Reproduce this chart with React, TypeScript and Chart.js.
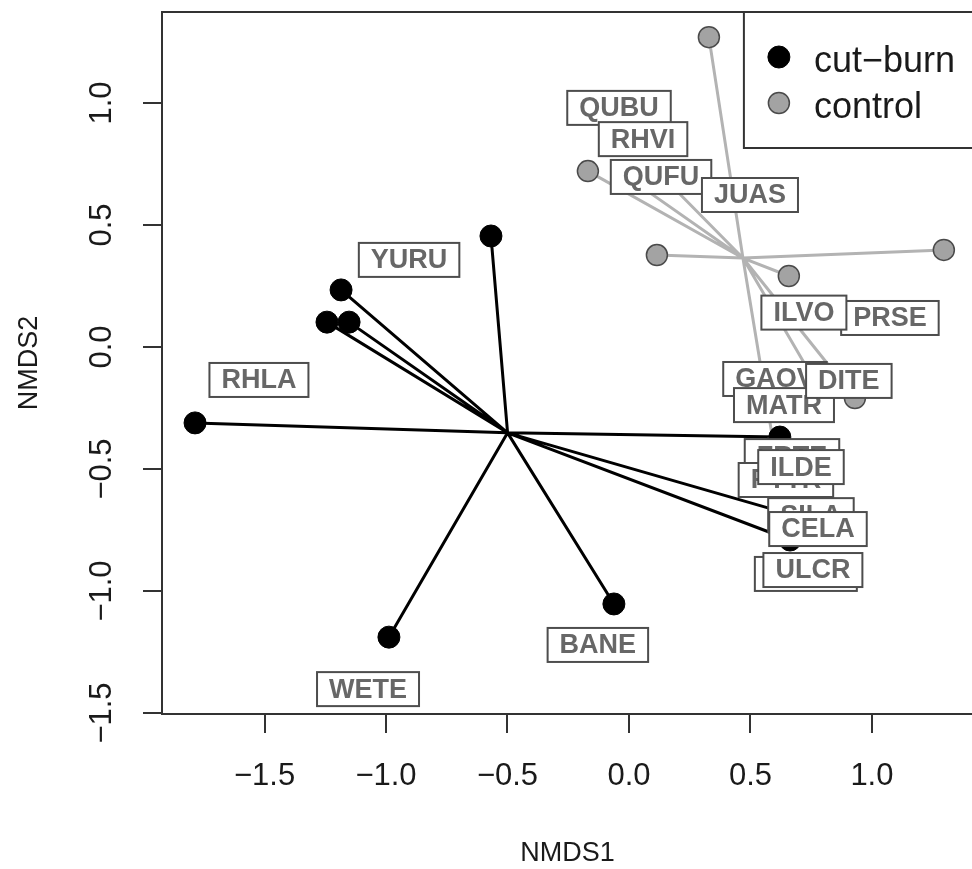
import React, { useEffect, useRef } from "react";
import { Chart, registerables } from "chart.js";
Chart.register(...registerables);

const CANVAS_W = 990;
const CANVAS_H = 869;
const FONT = '"Liberation Sans", Arial, Helvetica, sans-serif';

const groupNames = ["cut\u2212burn", "control"];

const cutBurnX = [-0.568, -1.185, -1.243, -1.152, -1.786, -0.988, -0.062, 0.621, 0.704, 0.663];
const cutBurnY = [0.455, 0.234, 0.102, 0.102, -0.311, -1.189, -1.053, -0.369, -0.697, -0.791];

const controlX = [0.329, -0.169, 0.115, 1.296, 0.658, 0.93, 0.597, 0.786, 0.012, 0.136];
const controlY = [1.27, 0.721, 0.377, 0.398, 0.291, -0.209, -0.41, -0.176, 0.684, 0.701];

const speciesNames = ["QUBU", "RHVI", "QUFU", "JUAS", "YURU", "RHLA", "PRSE", "ILVO", "GAOV", "MATR", "DITE", "FRTE", "PTTR", "ILDE", "SILA", "CELA", "ULAM", "ULCR", "BANE", "WETE"];
const speciesX = [-0.041, 0.058, 0.132, 0.498, -0.905, -1.523, 1.074, 0.72, 0.601, 0.638, 0.905, 0.671, 0.646, 0.708, 0.749, 0.778, 0.728, 0.757, -0.128, -1.074];
const speciesY = [0.98, 0.852, 0.697, 0.623, 0.357, -0.135, 0.119, 0.141, -0.131, -0.238, -0.139, -0.447, -0.545, -0.492, -0.689, -0.746, -0.93, -0.914, -1.221, -1.402];

const xTicks = [-1.5, -1.0, -0.5, 0.0, 0.5, 1.0];
const yTicks = [-1.5, -1.0, -0.5, 0.0, 0.5, 1.0];

const xRange = [-1.922, 1.416];
const yRange = [-1.504, 1.373];

function pts(xs: number[], ys: number[]) {
  return xs.map((x, i) => ({ x, y: ys[i] }));
}

function spokes(xs: number[], ys: number[]) {
  const cx = xs.reduce((a, b) => a + b, 0) / xs.length;
  const cy = ys.reduce((a, b) => a + b, 0) / ys.length;
  const out: { x: number; y: number }[] = [];
  xs.forEach((x, i) => {
    out.push({ x: cx, y: cy });
    out.push({ x, y: ys[i] });
  });
  return out;
}

const fmt = (v: number) => v.toFixed(1).replace("-", "\u2212");

const decorPlugin = {
  id: "decor",
  afterDatasetsDraw(chart: any) {
    const { ctx, chartArea, scales } = chart;
    const xs = scales.x;
    const ys = scales.y;
    ctx.save();
    ctx.strokeStyle = "#333333";
    ctx.lineWidth = 2;
    ctx.strokeRect(chartArea.left, chartArea.top, chartArea.right - chartArea.left, chartArea.bottom - chartArea.top);
    ctx.font = `bold 27px ${FONT}`;
    ctx.textAlign = "center";
    ctx.textBaseline = "middle";
    speciesNames.forEach((name, i) => {
      const px = xs.getPixelForValue(speciesX[i]);
      const py = ys.getPixelForValue(speciesY[i]);
      const w = ctx.measureText(name).width + 24;
      const h = 34;
      ctx.fillStyle = "#ffffff";
      ctx.fillRect(px - w / 2, py - h / 2, w, h);
      ctx.strokeStyle = "#4d4d4d";
      ctx.lineWidth = 2;
      ctx.strokeRect(px - w / 2, py - h / 2, w, h);
      ctx.fillStyle = "#676767";
      ctx.fillText(name, px, py + 1);
    });
    ctx.restore();
  },
  afterDraw(chart: any) {
    const { ctx, chartArea } = chart;
    const ds = chart.data.datasets;
    ctx.save();
    ctx.font = `36px ${FONT}`;
    const tw = Math.max(...groupNames.map((n) => ctx.measureText(n).width));
    const boxW = 70 + tw + 18;
    const left = chartArea.right - boxW;
    const top = chartArea.top;
    const boxH = 136;
    ctx.fillStyle = "#ffffff";
    ctx.fillRect(left, top, boxW, boxH);
    ctx.strokeStyle = "#333333";
    ctx.lineWidth = 2;
    ctx.strokeRect(left, top, boxW, boxH);
    groupNames.forEach((name, i) => {
      const cy = top + 45 + i * 46;
      ctx.beginPath();
      ctx.arc(left + 35, cy, i === 0 ? 11 : 10.5, 0, Math.PI * 2);
      ctx.fillStyle = ds[i].pointBackgroundColor;
      ctx.fill();
      ctx.lineWidth = ds[i].pointBorderWidth;
      ctx.strokeStyle = ds[i].pointBorderColor;
      ctx.stroke();
      ctx.fillStyle = "#1a1a1a";
      ctx.textAlign = "left";
      ctx.textBaseline = "alphabetic";
      ctx.fillText(name, left + 70, cy + 15);
    });
    ctx.restore();
  },
};

export default function App() {
  const ref = useRef<HTMLCanvasElement | null>(null);

  useEffect(() => {
    if (!ref.current) return;
    const chart = new Chart(ref.current, {
      type: "scatter",
      data: {
        datasets: [
          {
            label: groupNames[0],
            data: pts(cutBurnX, cutBurnY),
            showLine: false,
            pointRadius: 11,
            pointBackgroundColor: "#000000",
            pointBorderColor: "#000000",
            pointBorderWidth: 1,
          },
          {
            label: groupNames[1],
            data: pts(controlX, controlY),
            showLine: false,
            pointRadius: 10.5,
            pointBackgroundColor: "#a3a3a3",
            pointBorderColor: "#4a4a4a",
            pointBorderWidth: 1.5,
          },
          {
            label: "cut-burn spider",
            data: spokes(cutBurnX, cutBurnY),
            showLine: true,
            borderColor: "#000000",
            borderWidth: 3,
            borderJoinStyle: "round",
            pointRadius: 0,
          },
          {
            label: "control spider",
            data: spokes(controlX, controlY),
            showLine: true,
            borderColor: "#b3b3b3",
            borderWidth: 3,
            borderJoinStyle: "round",
            pointRadius: 0,
          },
        ],
      } as any,
      options: {
        responsive: false,
        animation: false,
        events: [],
        layout: { padding: { top: 12, right: CANVAS_W - 973, bottom: 0, left: 0 } },
        plugins: { legend: { display: false }, tooltip: { enabled: false } },
        scales: {
          x: {
            type: "linear",
            min: xRange[0],
            max: xRange[1],
            afterBuildTicks: (s: any) => {
              s.ticks = xTicks.map((v) => ({ value: v }));
            },
            afterFit: (s: any) => {
              s.height = CANVAS_H - 714;
              s.paddingLeft = 0;
              s.paddingRight = 0;
              s.paddingTop = 0;
              s.paddingBottom = 0;
            },
            border: { display: false },
            grid: { display: true, drawOnChartArea: false, drawTicks: true, tickLength: 19, color: "#333333", lineWidth: 2 },
            ticks: { callback: (v: any) => fmt(Number(v)), font: { size: 31, family: FONT }, color: "#1a1a1a", padding: 25, maxRotation: 0 },
            title: { display: true, text: "NMDS1", font: { size: 27, family: FONT, lineHeight: "30px" }, color: "#1a1a1a", padding: 0 },
          },
          y: {
            type: "linear",
            min: yRange[0],
            max: yRange[1],
            afterBuildTicks: (s: any) => {
              s.ticks = yTicks.map((v) => ({ value: v }));
            },
            afterFit: (s: any) => {
              s.width = 162;
              s.paddingLeft = 0;
              s.paddingRight = 0;
              s.paddingTop = 0;
              s.paddingBottom = 0;
            },
            border: { display: false },
            grid: { display: true, drawOnChartArea: false, drawTicks: true, tickLength: 19, color: "#333333", lineWidth: 2 },
            ticks: { callback: (v: any) => fmt(Number(v)), font: { size: 31, family: FONT }, color: "#1a1a1a", padding: 10, minRotation: 90, maxRotation: 90, crossAlign: "center" },
            title: { display: true, text: "NMDS2", font: { size: 27, family: FONT, lineHeight: "60px" }, color: "#1a1a1a", padding: 0 },
          },
        },
      } as any,
      plugins: [decorPlugin],
    });
    return () => chart.destroy();
  }, []);

  return (
    <div style={{ position: "fixed", left: 0, top: 0, width: 972, height: 869, overflow: "hidden", background: "#ffffff" }}>
      <canvas ref={ref} width={CANVAS_W} height={CANVAS_H} style={{ display: "block", width: CANVAS_W, height: CANVAS_H }} />
    </div>
  );
}
